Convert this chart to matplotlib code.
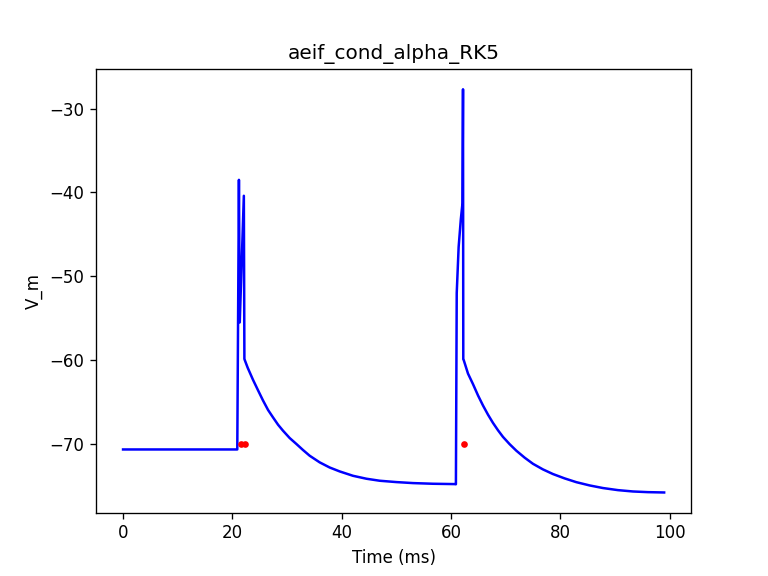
import matplotlib
matplotlib.use("Agg")
import matplotlib.pyplot as plt

# membrane potential trace
t_rest = [0.0, 20.85]
v_rest = [-70.65, -70.65]

t_spike1 = [20.9, 21.2, 21.35, 22.1, 22.2]
v_spike1 = [-70.65, -38.5, -55.5, -40.4, -59.85]

t_decay1 = [22.26, 22.8, 23.78, 24.7, 25.6, 26.53, 27.43, 28.36, 29.26,
            30.49, 31.72, 32.93, 34.15, 35.98, 37.8, 39.64, 42.07, 44.52,
            46.95, 50.0, 53.05, 56.71, 60.67, 60.85]
v_decay1 = [-59.97, -60.9, -62.35, -63.6, -64.8, -65.94, -66.82, -67.7,
            -68.41, -69.29, -70.0, -70.72, -71.4, -72.19, -72.8, -73.27,
            -73.79, -74.14, -74.38, -74.54, -74.66, -74.74, -74.78, -74.8]

t_spike2 = [60.9, 61.05, 61.4, 61.8, 62.1, 62.2, 62.25]
v_spike2 = [-74.8, -52.0, -46.5, -43.2, -41.3, -27.7, -59.9]

t_decay2 = [62.32, 63.11, 64.02, 64.94, 65.85, 66.77, 67.68, 68.6, 69.51,
            70.73, 71.96, 73.48, 75.0, 76.83, 78.65, 80.79, 82.93, 85.37,
            87.8, 90.55, 93.29, 96.04, 99.0]
v_decay2 = [-59.97, -61.6, -62.85, -64.2, -65.4, -66.5, -67.48, -68.36,
            -69.15, -70.02, -70.8, -71.63, -72.36, -73.03, -73.58, -74.1,
            -74.55, -74.94, -75.25, -75.5, -75.66, -75.74, -75.78]

# detected spike times
spike_times = [21.6, 22.3, 62.3]
spike_marks = [-70.0, -70.0, -70.0]

t = t_rest + t_spike1 + t_decay1 + t_spike2 + t_decay2
v = v_rest + v_spike1 + v_decay1 + v_spike2 + v_decay2

fig = plt.figure(figsize=(6.4, 4.8), dpi=120)
ax = fig.add_subplot(111)
ax.plot(t, v, color="b")
ax.plot(spike_times, spike_marks, "r.")
ax.set_title("aeif_cond_alpha_RK5")
ax.set_xlabel("Time (ms)")
ax.set_ylabel("V_m")
fig.savefig("out.png", dpi=120)
